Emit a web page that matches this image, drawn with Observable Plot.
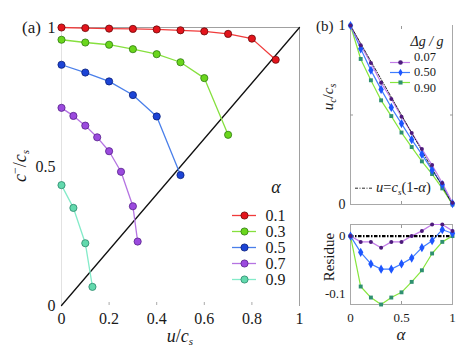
<!DOCTYPE html>
<html><head><meta charset="utf-8">
<script src="https://cdn.jsdelivr.net/npm/d3@7"></script>
<script src="https://cdn.jsdelivr.net/npm/@observablehq/plot@0.6"></script>
<style>
body{margin:0;background:#fff;}
#wrap{position:relative;width:458px;height:354px;overflow:hidden;background:#fff;}
#wrap svg{overflow:visible;}
</style></head><body><div id="wrap"></div>
<script>
// ---------- Panel (a) data ----------
const alphas = ["0.1","0.3","0.5","0.7","0.9"];
const u01 = [0,0.1,0.2,0.3,0.4,0.5,0.6,0.7,0.8,0.9];
const c01 = [1.0,0.998,0.996,0.995,0.993,0.99,0.986,0.977,0.96,0.884];
const u03 = [0,0.1,0.2,0.3,0.4,0.5,0.6,0.7];
const c03 = [0.956,0.946,0.938,0.922,0.904,0.875,0.818,0.614];
const u05 = [0,0.1,0.2,0.3,0.4,0.5];
const c05 = [0.866,0.838,0.806,0.757,0.68,0.469];
const u07 = [0,0.05,0.1,0.15,0.2,0.25,0.3,0.32];
const c07 = [0.711,0.682,0.647,0.605,0.555,0.481,0.357,0.23];
const u09 = [0,0.05,0.1,0.13];
const c09 = [0.433,0.351,0.224,0.067];
const xTicksA = [0,0.2,0.4,0.6,0.8,1];
const yTicksA = [0,0.5,1];
const diagU = [0,1];
const diagC = [0,1];

// ---------- Panel (b) data ----------
const alphaB = [0,0.1,0.2,0.3,0.4,0.5,0.6,0.7,0.8,0.9,1];
const gLabels = ["0.07","0.50","0.90"];
const uc07 = [1,0.89,0.79,0.68,0.59,0.49,0.40,0.31,0.22,0.12,0.01];
const uc50 = [1,0.87,0.75,0.643,0.542,0.452,0.362,0.28,0.192,0.111,0.005];
const uc90 = [1,0.813,0.694,0.582,0.494,0.402,0.321,0.241,0.17,0.09,0];
const res07 = [0,-0.01,-0.01,-0.02,-0.01,-0.01,0,0.009,0.02,0.02,0.009];
const res50 = [0,-0.028,-0.048,-0.057,-0.057,-0.048,-0.038,-0.02,-0.008,0.011,0.005];
const res90 = [0,-0.087,-0.106,-0.118,-0.106,-0.097,-0.079,-0.059,-0.03,-0.01,0];
const refA = [0,1];
const refU = [1,0];
const xTicksB = [0,0.5,1];
const yTicksB = [0,1];
const yTicksR = [0,-0.1];

// ---------- styles ----------
const colA = {
  "0.1":{line:"#f03b3b", fill:"#e3141c", edge:"#6a0808"},
  "0.3":{line:"#86e03e", fill:"#6ad61c", edge:"#2f7a10"},
  "0.5":{line:"#4a7fea", fill:"#1c44d6", edge:"#0a1f78"},
  "0.7":{line:"#b574e2", fill:"#9b4ade", edge:"#56208a"},
  "0.9":{line:"#84ebc9", fill:"#62d9ad", edge:"#28866a"}
};
const colB = {
  "0.07":{line:"#c27ce8", fill:"#4d1a7c", symbol:"circle", r:2},
  "0.50":{line:"#3f7dff", fill:"#1d55ff", symbol:"diamond", r:2.8},
  "0.90":{line:"#86e63c", fill:"#2f9070", symbol:"square", r:2.2}
};
const FONT = '"Liberation Serif", "Times New Roman", serif';
const baseStyle = {fontFamily: FONT, background:"none", overflow:"visible", color:"#1a1a1a"};

const seriesA = [
  {key:"0.1", u:u01, c:c01},
  {key:"0.3", u:u03, c:c03},
  {key:"0.5", u:u05, c:c05},
  {key:"0.7", u:u07, c:c07},
  {key:"0.9", u:u09, c:c09}
];
const seriesB = [
  {key:"0.90", uc:uc90, res:res90},
  {key:"0.50", uc:uc50, res:res50},
  {key:"0.07", uc:uc07, res:res07}
];

const wrap = document.getElementById("wrap");
function place(el, left, top){
  el.style.position = "absolute";
  el.style.left = left + "px";
  el.style.top = top + "px";
  wrap.appendChild(el);
}

// ---------- Panel (a) ----------
const diag = diagU.map((u,i)=>({u, c:diagC[i]}));
const marksA = [
  Plot.frame({anchor:"left", stroke:"#e2e2e2"}),
  Plot.frame({anchor:"top", stroke:"#a0a0a0"}),
  Plot.frame({anchor:"right", stroke:"#a0a0a0"}),
  Plot.axisX({ticks:xTicksA.slice(1,-1), tickSize:3, dy:-3, fill:"none", stroke:"#aaa"}),
  Plot.axisX({ticks:xTicksA, tickSize:0, tickPadding:7, fontSize:16, tickFormat:d=>String(d), label:null}),
  Plot.axisY({ticks:yTicksA, tickSize:0, tickPadding:6, fontSize:16, tickFormat:d=>String(d), label:null}),
  Plot.line(diag, {x:"u", y:"c", stroke:"#111", strokeWidth:1.3})
];
for (const s of seriesA) {
  const rows = s.u.map((u,i)=>({u, c:s.c[i]}));
  marksA.push(Plot.line(rows, {x:"u", y:"c", stroke:colA[s.key].line, strokeWidth:1.3}));
}
for (const s of seriesA) {
  const rows = s.u.map((u,i)=>({u, c:s.c[i]}));
  marksA.push(Plot.dot(rows, {x:"u", y:"c", r:3.6, fill:colA[s.key].fill, stroke:colA[s.key].edge, strokeWidth:0.8}));
}
const plotA = Plot.plot({
  width:310, height:354, marginLeft:61, marginRight:11, marginTop:27, marginBottom:49,
  x:{domain:[0,1]}, y:{domain:[0,1]},
  style:baseStyle,
  marks:marksA
});
place(plotA, 0, 0);

// legend (a)
const legA = Plot.plot({
  width:80, height:120, margin:0,
  x:{domain:[0,1], range:[6,30], axis:null},
  y:{type:"point", domain:alphas, range:[30.7,110.7], axis:null},
  color:{type:"identity"},
  style:baseStyle,
  marks:[
    Plot.ruleY(alphas, {y:d=>d, x1:0, x2:1, stroke:d=>colA[d].line, strokeWidth:1.3}),
    Plot.dot(alphas, {y:d=>d, x:0.5, r:3.6, fill:d=>colA[d].fill, stroke:d=>colA[d].edge, strokeWidth:0.8}),
    Plot.text(alphas, {y:d=>d, x:1, text:d=>d, dx:9, textAnchor:"start", fontSize:16, fill:"#1a1a1a"})
  ]
});
place(legA, 226, 176);

// ---------- Panel (b) top ----------
const ref = refA.map((a,i)=>({a, u:refU[i]}));
const marksB = [
  Plot.frame({anchor:"left", stroke:"#a8a8a8"}),
  Plot.frame({anchor:"bottom", stroke:"#a8a8a8"}),
  Plot.frame({anchor:"right", stroke:"#a8a8a8"}),
  Plot.axisX({anchor:"top", ticks:[0.5], tickSize:3, dy:3, fill:"none", stroke:"#999"}),
  Plot.axisX({anchor:"bottom", ticks:[0.5], tickSize:3, dy:-3, fill:"none", stroke:"#999"}),
  Plot.axisY({anchor:"left", ticks:[0.5], tickSize:3, dx:3, fill:"none", stroke:"#999"}),
  Plot.axisY({anchor:"right", ticks:[0.5], tickSize:3, dx:-3, fill:"none", stroke:"#999"}),
  Plot.axisY({anchor:"left", ticks:yTicksB, tickSize:0, tickPadding:5, fontSize:14, tickFormat:d=>String(d), label:null})
];
for (const s of seriesB) {
  const rows = alphaB.map((a,i)=>({a, v:s.uc[i]}));
  marksB.push(Plot.line(rows, {x:"a", y:"v", stroke:colB[s.key].line, strokeWidth:1.2}));
}
marksB.push(Plot.line(ref, {x:"a", y:"u", stroke:"#111", strokeWidth:0.9, strokeDasharray:"3,1.5,1,1.5"}));
for (const s of seriesB) {
  const rows = alphaB.map((a,i)=>({a, v:s.uc[i]}));
  marksB.push(Plot.dot(rows, {x:"a", y:"v", r:colB[s.key].r, symbol:colB[s.key].symbol, fill:colB[s.key].fill}));
}
const plotB = Plot.plot({
  width:148, height:215, marginLeft:40, marginRight:6, marginTop:25, marginBottom:11,
  x:{domain:[0,1]}, y:{domain:[0,1]},
  symbol:{type:"identity"},
  style:baseStyle,
  marks:marksB
});
place(plotB, 310, 0);

// legend (b): swatches via Plot, labels as explicit text rows
const legBRange = [11.5, 42.5];
const legB = Plot.plot({
  width:70, height:54, margin:0,
  x:{domain:[0,1], range:[5,25], axis:null},
  y:{type:"point", domain:gLabels, range:legBRange, axis:null},
  color:{type:"identity"},
  symbol:{type:"identity"},
  style:baseStyle,
  marks:[
    Plot.ruleY(gLabels, {y:d=>d, x1:0, x2:1, stroke:d=>colB[d].line, strokeWidth:1.2}),
    Plot.dot(gLabels, {y:d=>d, x:0.5, r:2.3, symbol:d=>colB[d].symbol, fill:d=>colB[d].fill})
  ]
});
place(legB, 385, 45);

// reference-line legend sample
const legRef = Plot.plot({
  width:30, height:16, margin:0,
  x:{domain:[0,1], range:[5,23], axis:null},
  y:{domain:[-1,1], range:[15.4,0], axis:null},
  style:baseStyle,
  marks:[Plot.ruleY([0], {x1:0, x2:1, stroke:"#111", strokeWidth:0.9, strokeDasharray:"3,1.5,1,1.5"})]
});
place(legRef, 350, 180);

// ---------- Panel (b) residue ----------
const marksR = [
  Plot.frame({stroke:"#a8a8a8"}),
  Plot.axisX({anchor:"top", ticks:[0.5], tickSize:3, dy:3, fill:"none", stroke:"#999"}),
  Plot.axisX({anchor:"bottom", ticks:[0.5], tickSize:3, dy:-3, fill:"none", stroke:"#999"}),
  Plot.axisX({ticks:xTicksB, tickSize:0, tickPadding:8, fontSize:13, tickFormat:d=>String(d), label:null}),
  Plot.axisY({ticks:yTicksR, tickSize:0, tickPadding:5, fontSize:13, tickFormat:d=>String(d), label:null})
];
for (const s of seriesB) {
  const rows = alphaB.map((a,i)=>({a, v:s.res[i]}));
  marksR.push(Plot.line(rows, {x:"a", y:"v", stroke:colB[s.key].line, strokeWidth:1.2}));
}
marksR.push(Plot.ruleY([0], {stroke:"#000", strokeWidth:2.2, strokeDasharray:"3.5,1.5,1.5,1.5"}));
for (const s of seriesB) {
  const rows = alphaB.map((a,i)=>({a, v:s.res[i]}));
  marksR.push(Plot.dot(rows, {x:"a", y:"v", r:colB[s.key].r, symbol:colB[s.key].symbol, fill:colB[s.key].fill}));
}
const plotR = Plot.plot({
  width:148, height:139, marginLeft:40, marginRight:6, marginTop:9, marginBottom:50,
  x:{domain:[0,1]}, y:{domain:[-0.118,0.02]},
  symbol:{type:"identity"},
  style:baseStyle,
  marks:marksR
});
place(plotR, 310, 215);

// ---------- Text overlay (titles, axis labels) ----------
const ns = "http://www.w3.org/2000/svg";
const ov = document.createElementNS(ns, "svg");
ov.setAttribute("width", 458); ov.setAttribute("height", 354);
ov.style.position = "absolute"; ov.style.left = "0px"; ov.style.top = "0px";
ov.style.pointerEvents = "none";
ov.style.fontFamily = FONT;
ov.setAttribute("fill", "#1a1a1a");
ov.innerHTML = `
<text x="22" y="33" font-size="17">(a)</text>
<text transform="translate(26,166) rotate(-90)" text-anchor="middle" font-size="18"><tspan font-style="italic">c</tspan><tspan dy="-7" font-size="12">−</tspan><tspan dy="7">/</tspan><tspan font-style="italic">c</tspan><tspan font-size="11" dy="3" font-style="italic">s</tspan></text>
<text x="180" y="342" text-anchor="middle" font-size="18"><tspan font-style="italic">u</tspan>/<tspan font-style="italic">c</tspan><tspan font-size="11" dy="3" font-style="italic">s</tspan></text>
<text x="276" y="193" text-anchor="middle" font-size="18" font-style="italic">α</text>
<text x="316" y="31" font-size="15">(b)</text>
<text transform="translate(333,97) rotate(-90)" text-anchor="middle" font-size="15"><tspan font-style="italic">u</tspan><tspan font-size="10" dy="3" font-style="italic">c</tspan><tspan dy="-3">/</tspan><tspan font-style="italic">c</tspan><tspan font-size="10" dy="3" font-style="italic">s</tspan></text>
<text x="427" y="46" text-anchor="middle" font-size="14" font-style="italic">Δg / g</text>
<text x="376" y="192" font-size="14.5"><tspan font-style="italic">u</tspan>=<tspan font-style="italic">c</tspan><tspan font-size="9" dy="3" font-style="italic">s</tspan><tspan dy="-3">(1-</tspan><tspan font-style="italic">α</tspan>)</text>
<text transform="translate(334,257) rotate(-90)" text-anchor="middle" font-size="15">Residue</text>
<text x="401" y="340" text-anchor="middle" font-size="17" font-style="italic">α</text>
`;
// legend (b) labels, one per category, aligned to the swatch rows
const rowY = d3.scalePoint(gLabels, legBRange);
d3.select(ov).selectAll("text.legb").data(gLabels).join("text")
  .attr("class", "legb")
  .attr("x", 385 + 25 + 4)
  .attr("y", d => 45 + rowY(d) + 4)
  .attr("font-size", 12.5)
  .text(d => d);
wrap.appendChild(ov);
</script>
</body></html>
